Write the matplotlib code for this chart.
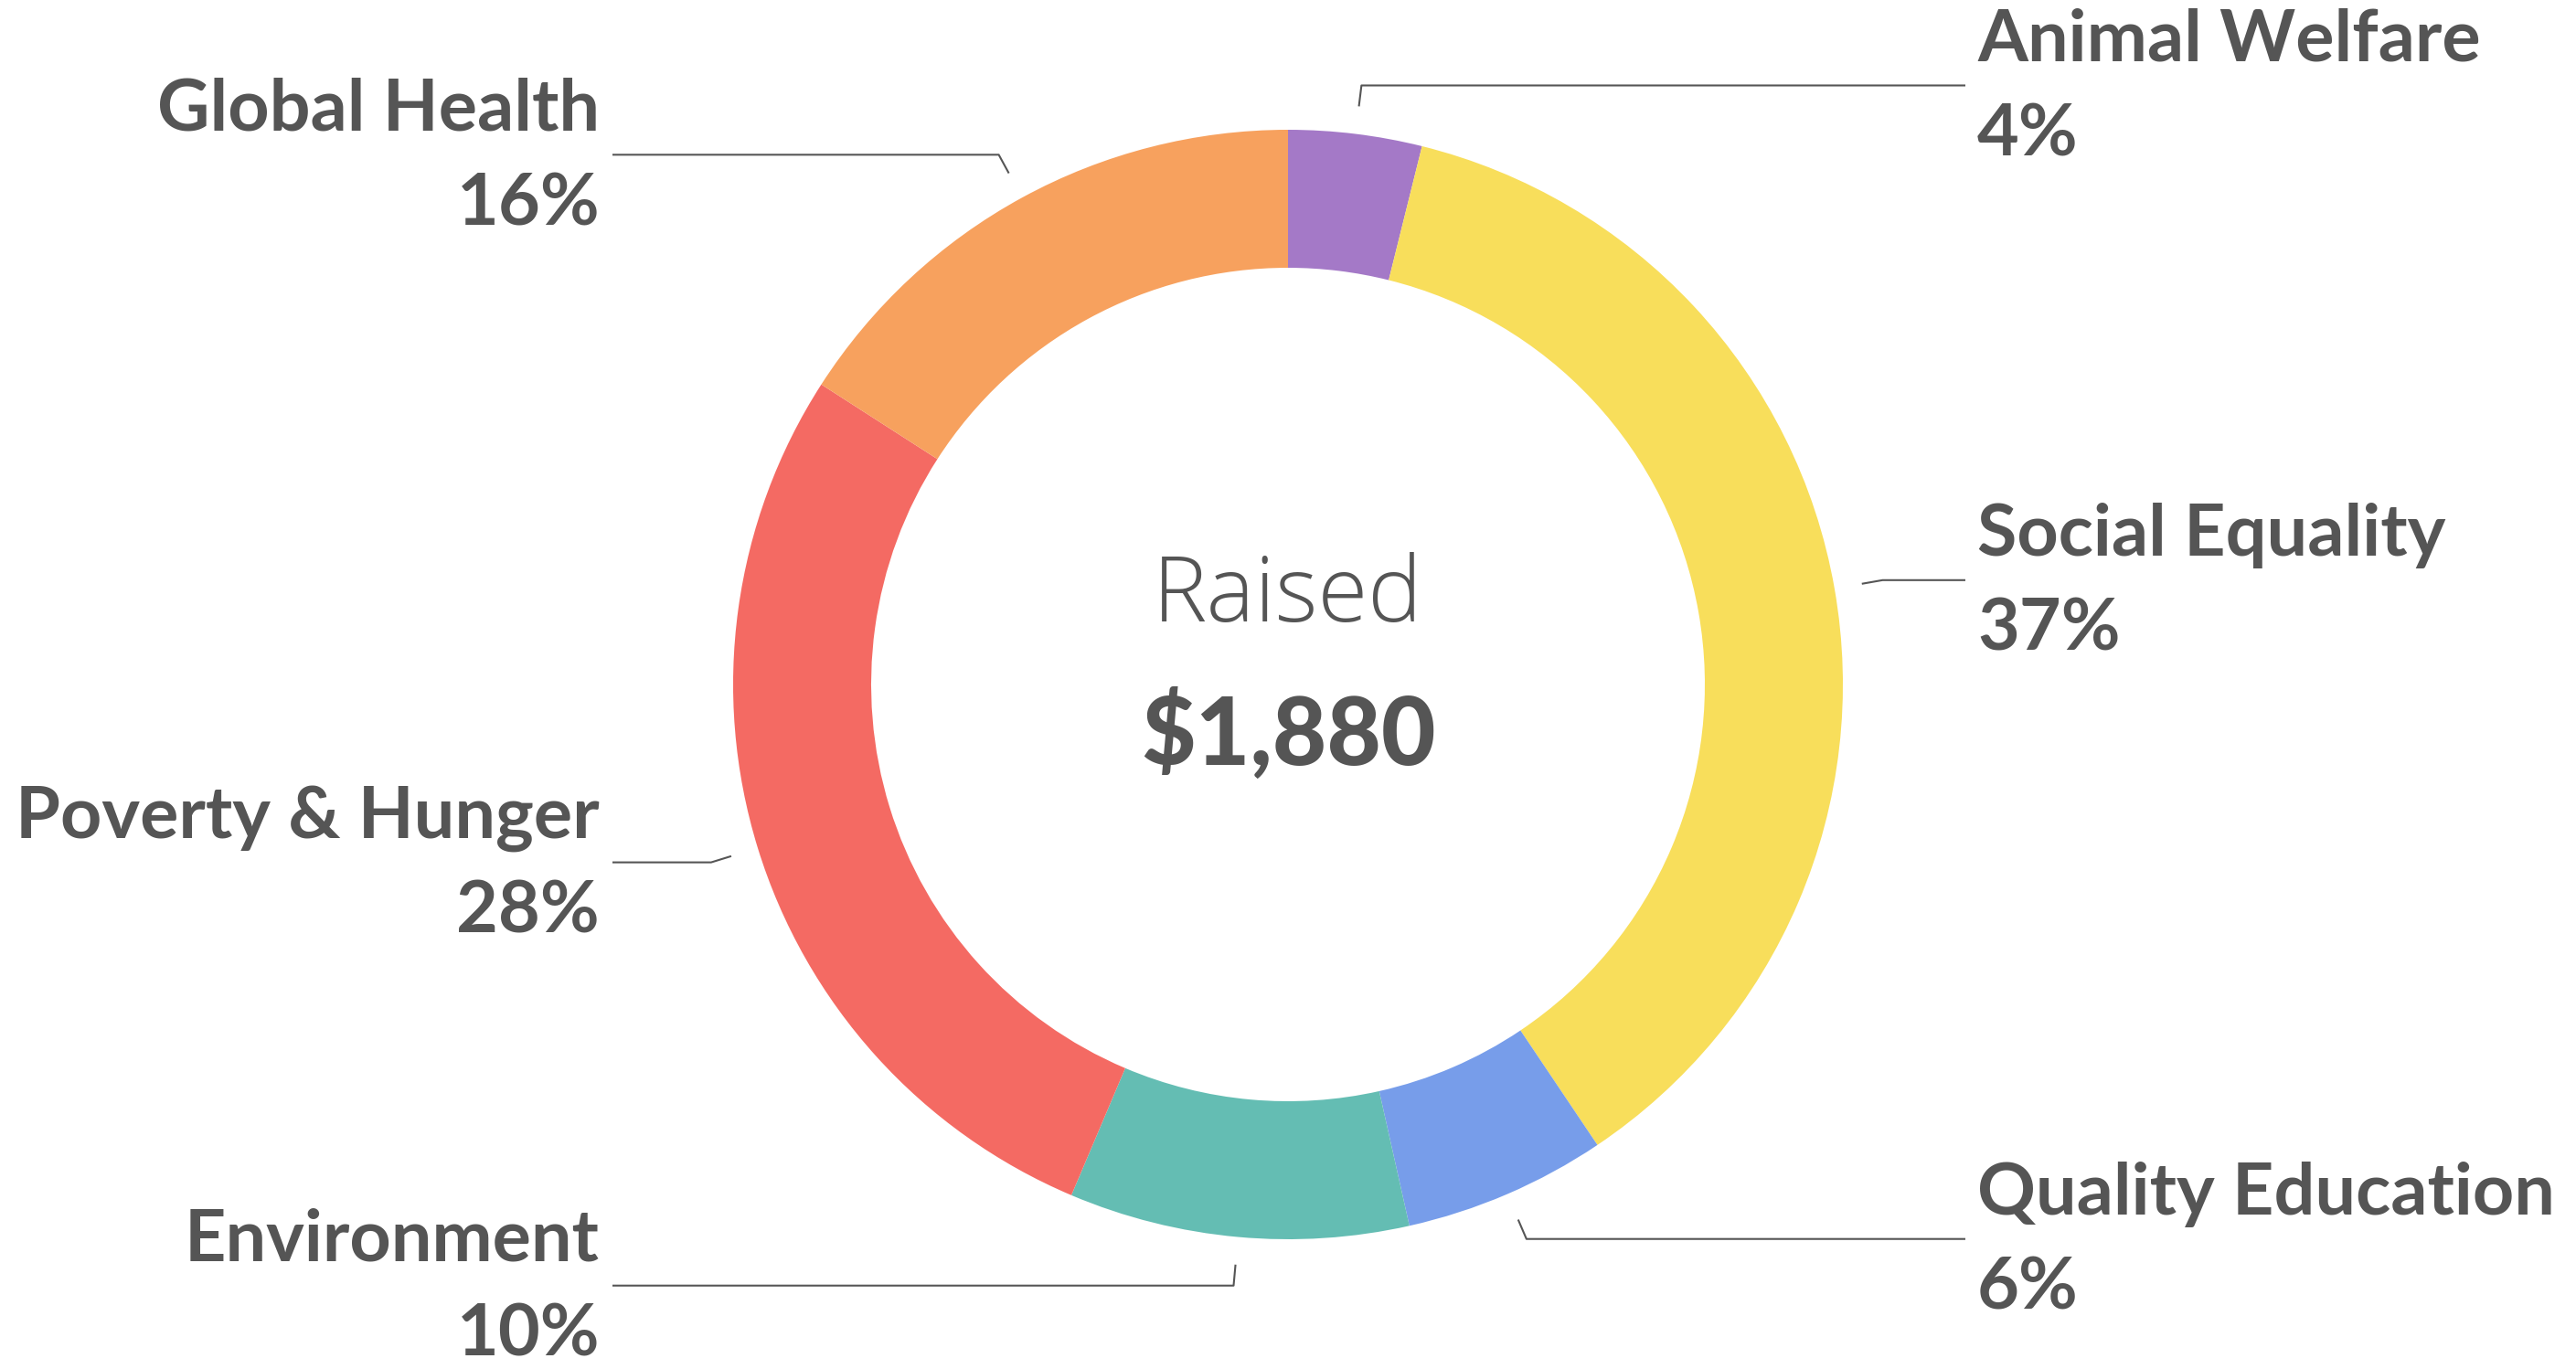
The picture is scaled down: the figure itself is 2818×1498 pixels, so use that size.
import numpy as np
import matplotlib.pyplot as plt

# donation split, clockwise from 12 o'clock
categories = ['Animal Welfare', 'Social Equality', 'Quality Education',
              'Environment', 'Poverty & Hunger', 'Global Health']
amounts = [73, 690, 111, 186, 521, 299]
colors = ['#A479C7', '#F8DE5B', '#779DEA', '#64BDB3', '#F46A63', '#F7A15E']

TEXT = '#555555'
plt.rcParams['font.family'] = ['Lato', 'DejaVu Sans']

W, H = 2818, 1498
fig = plt.figure(figsize=(W / 100, H / 100), dpi=100)
ax = fig.add_axes([0, 0, 1, 1])

cx, cy, R = 1409, 749, 607
ax.pie(amounts, colors=colors, startangle=90, counterclock=False,
       center=(cx, cy), radius=R,
       wedgeprops=dict(width=151, linewidth=0))
ax.set_xlim(0, W)
ax.set_ylim(0, H)
ax.set_aspect('equal')
ax.axis('off')

total = sum(amounts)
cum = np.cumsum([0] + amounts)
for i, (name, val) in enumerate(zip(categories, amounts)):
    mid = (cum[i] + cum[i + 1]) / 2 / total * 2 * np.pi
    dx, dy = np.sin(mid), np.cos(mid)
    x1, y1 = cx + 1.05 * R * dx, cy + 1.05 * R * dy
    x2, y2 = cx + 1.088 * R * dx, cy + 1.088 * R * dy
    right = dx > 0
    xe = 2150 if right else 670
    ax.plot([x1, x2, xe], [y1, y2, y2], color=TEXT, lw=1.5,
            solid_capstyle='butt')
    tx = 2163 if right else 656
    ha = 'left' if right else 'right'
    pct = round(val / total * 100)
    ax.text(tx, y2 + 27, name, ha=ha, va='baseline', fontsize=57,
            fontweight='bold', color=TEXT)
    ax.text(tx, y2 - 77, f'{pct}%', ha=ha, va='baseline', fontsize=57,
            fontweight='bold', color=TEXT)

ax.text(cx, 818, 'Raised', ha='center', va='baseline', fontsize=72,
        fontweight='light', color=TEXT, family=['Open Sans', 'DejaVu Sans'])
ax.text(cx, 661, f'${total:,}', ha='center', va='baseline', fontsize=74,
        fontweight='black', color=TEXT)

fig.savefig('out.png', dpi=100, facecolor='white')
